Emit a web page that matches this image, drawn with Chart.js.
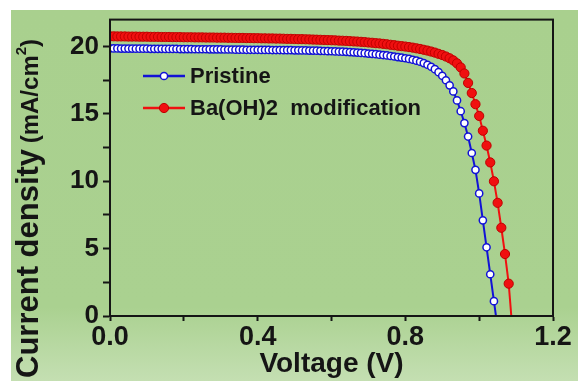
<!DOCTYPE html>
<html>
<head>
<meta charset="utf-8">
<script src="https://cdn.jsdelivr.net/npm/chart.js@4.4.1/dist/chart.umd.min.js"></script>
<style>
  html, body { margin: 0; padding: 0; background: #fff; }
  #wrap { width: 578px; height: 381px; }
</style>
</head>
<body>
<div id="wrap"><canvas id="jv" width="578" height="381"></canvas></div>
<script>
// ===============================
// DATA
// ===============================
const seriesNames = ["Pristine", "Ba(OH)2  modification"];

// voltage steps (V)
const voltage = [
  0.00, 0.01, 0.02, 0.03, 0.04, 0.05, 0.06, 0.07, 0.08, 0.09,
  0.10, 0.11, 0.12, 0.13, 0.14, 0.15, 0.16, 0.17, 0.18, 0.19,
  0.20, 0.21, 0.22, 0.23, 0.24, 0.25, 0.26, 0.27, 0.28, 0.29,
  0.30, 0.31, 0.32, 0.33, 0.34, 0.35, 0.36, 0.37, 0.38, 0.39,
  0.40, 0.41, 0.42, 0.43, 0.44, 0.45, 0.46, 0.47, 0.48, 0.49,
  0.50, 0.51, 0.52, 0.53, 0.54, 0.55, 0.56, 0.57, 0.58, 0.59,
  0.60, 0.61, 0.62, 0.63, 0.64, 0.65, 0.66, 0.67, 0.68, 0.69,
  0.70, 0.71, 0.72, 0.73, 0.74, 0.75, 0.76, 0.77, 0.78, 0.79,
  0.80, 0.81, 0.82, 0.83, 0.84, 0.85, 0.86, 0.87, 0.88, 0.89,
  0.90, 0.91, 0.92, 0.93, 0.94, 0.95, 0.96, 0.97, 0.98, 0.99,
  1.00, 1.01, 1.02, 1.03, 1.04, 1.05, 1.06, 1.07, 1.08, 1.09
];

// current density (mA/cm2), pristine device
const pristineJ = [
  19.86, 19.86, 19.86, 19.85, 19.85, 19.85, 19.85, 19.84, 19.84, 19.84,
  19.84, 19.83, 19.83, 19.83, 19.83, 19.82, 19.82, 19.82, 19.82, 19.81,
  19.81, 19.81, 19.81, 19.80, 19.80, 19.80, 19.80, 19.79, 19.79, 19.79,
  19.79, 19.78, 19.78, 19.78, 19.77, 19.77, 19.77, 19.76, 19.76, 19.76,
  19.76, 19.75, 19.75, 19.75, 19.74, 19.74, 19.74, 19.73, 19.73, 19.73,
  19.72, 19.72, 19.71, 19.71, 19.70, 19.70, 19.69, 19.68, 19.67, 19.66,
  19.65, 19.64, 19.63, 19.62, 19.61, 19.59, 19.57, 19.55, 19.53, 19.51,
  19.48, 19.46, 19.43, 19.40, 19.37, 19.34, 19.30, 19.26, 19.22, 19.18,
  19.13, 19.08, 19.02, 18.95, 18.87, 18.77, 18.65, 18.50, 18.32, 18.10,
  17.83, 17.50, 17.12, 16.67, 16.00, 15.20, 14.32, 13.32, 12.10, 10.85,
  9.10, 7.10, 5.10, 3.10, 1.10, -0.90
];

// current density (mA/cm2), Ba(OH)2 modified device
const modifiedJ = [
  20.76, 20.76, 20.75, 20.75, 20.75, 20.74, 20.74, 20.74, 20.73, 20.73,
  20.73, 20.72, 20.72, 20.72, 20.71, 20.71, 20.71, 20.70, 20.70, 20.70,
  20.69, 20.69, 20.69, 20.68, 20.68, 20.68, 20.67, 20.67, 20.67, 20.66,
  20.66, 20.66, 20.65, 20.65, 20.64, 20.64, 20.64, 20.63, 20.63, 20.62,
  20.62, 20.61, 20.61, 20.60, 20.60, 20.59, 20.59, 20.58, 20.57, 20.57,
  20.56, 20.55, 20.55, 20.54, 20.53, 20.52, 20.51, 20.50, 20.49, 20.48,
  20.47, 20.46, 20.44, 20.43, 20.42, 20.40, 20.38, 20.37, 20.35, 20.33,
  20.30, 20.28, 20.25, 20.23, 20.20, 20.17, 20.13, 20.10, 20.06, 20.03,
  20.00, 19.96, 19.92, 19.87, 19.82, 19.76, 19.70, 19.63, 19.55, 19.46,
  19.37, 19.26, 19.13, 18.97, 18.75, 18.45, 18.00, 17.30, 16.55, 15.72,
  14.85, 13.75, 12.65, 11.40, 10.00, 8.40, 6.55, 4.60, 2.40, -1.00
];

// tick labels shown
const xTickLabels = ["0.0", "0.4", "0.8", "1.2"];
const yTickLabels = ["0", "5", "10", "15", "20"];

// ===============================
// STYLE
// ===============================
const FONT = '"Liberation Sans", Arial, sans-serif';
const INK = "#151515";
const BLUE = "#1212d6";
const RED = "#f01010";

function toPoints(ys) {
  return ys.map((y, i) => ({ x: voltage[i], y }));
}

// ===============================
// PLUGINS
// ===============================
const background = {
  id: "background",
  beforeDraw(chart) {
    const { ctx, width, height } = chart;
    ctx.save();
    ctx.fillStyle = "#ffffff";
    ctx.fillRect(0, 0, width, height);
    const g = ctx.createLinearGradient(0, 10, 0, height);
    g.addColorStop(0, "#a9d08e");
    g.addColorStop(0.8, "#aad190");
    g.addColorStop(1, "#c4dfb2");
    ctx.fillStyle = g;
    ctx.fillRect(11, 10, width - 11, height - 10);
    ctx.restore();
  }
};

const frame = {
  id: "frame",
  afterDraw(chart) {
    const { ctx, chartArea: a } = chart;
    ctx.save();
    ctx.strokeStyle = INK;
    ctx.lineWidth = 2;
    ctx.strokeRect(a.left, a.top, a.right - a.left, a.bottom - a.top);
    ctx.restore();
  }
};

const yTitle = {
  id: "yTitle",
  afterDraw(chart) {
    const { ctx } = chart;
    ctx.save();
    ctx.translate(38, 378);
    ctx.rotate(-Math.PI / 2);
    ctx.fillStyle = INK;
    ctx.textBaseline = "alphabetic";
    ctx.textAlign = "left";
    let x = 0;
    ctx.font = "bold 31px " + FONT;
    ctx.fillText("Current density", x, 0);
    x += ctx.measureText("Current density ").width - 3;
    ctx.font = "bold 24px " + FONT;
    ctx.fillText("(mA/cm", x, 0);
    x += ctx.measureText("(mA/cm").width;
    ctx.font = "bold 15px " + FONT;
    ctx.fillText("2", x, -12);
    x += ctx.measureText("2").width;
    ctx.font = "bold 24px " + FONT;
    ctx.fillText(")", x, 0);
    ctx.restore();
  }
};

const innerLegend = {
  id: "innerLegend",
  afterDraw(chart) {
    const { ctx } = chart;
    const rows = [76, 108];
    ctx.save();
    chart.data.datasets.forEach((ds, i) => {
      const y = rows[i];
      ctx.strokeStyle = ds.borderColor;
      ctx.lineWidth = 2.5;
      ctx.beginPath();
      ctx.moveTo(143, y);
      ctx.lineTo(185, y);
      ctx.stroke();
      ctx.beginPath();
      ctx.arc(164, y, ds.pointRadius, 0, Math.PI * 2);
      ctx.fillStyle = ds.pointBackgroundColor;
      ctx.fill();
      ctx.lineWidth = ds.pointBorderWidth;
      ctx.strokeStyle = ds.pointBorderColor;
      ctx.stroke();
      ctx.fillStyle = INK;
      ctx.font = "bold 22px " + FONT;
      ctx.textBaseline = "middle";
      ctx.fillText(ds.label, 190, y + 1);
    });
    ctx.restore();
  }
};

// ===============================
// CHART
// ===============================
new Chart(document.getElementById("jv"), {
  type: "line",
  data: {
    datasets: [
      {
        label: seriesNames[0],
        data: toPoints(pristineJ),
        borderColor: BLUE,
        borderWidth: 2,
        pointRadius: 3.6,
        pointBorderWidth: 1.5,
        pointBackgroundColor: "#ffffff",
        pointBorderColor: BLUE,
        tension: 0
      },
      {
        label: seriesNames[1],
        data: toPoints(modifiedJ),
        borderColor: RED,
        borderWidth: 2,
        pointRadius: 4.6,
        pointBorderWidth: 1,
        pointBackgroundColor: RED,
        pointBorderColor: "#c00000",
        tension: 0
      }
    ]
  },
  options: {
    responsive: false,
    devicePixelRatio: 1,
    animation: false,
    layout: { padding: { left: 0, right: 25, top: 17, bottom: 0 } },
    plugins: {
      legend: { display: false },
      tooltip: { enabled: false }
    },
    scales: {
      x: {
        type: "linear",
        min: 0,
        max: 1.2,
        ticks: {
          stepSize: 0.2,
          autoSkip: false,
          color: INK,
          padding: 0,
          maxRotation: 0,
          font: { family: FONT, size: 27, weight: "bold" },
          callback: v => {
            const k = Math.round(v * 10);
            return k % 4 === 0 ? xTickLabels[k / 4] : "";
          }
        },
        grid: { drawOnChartArea: false, tickLength: 5, tickColor: INK, tickWidth: 2 },
        border: { color: INK, width: 2 },
        title: {
          display: true,
          text: "Voltage (V)",
          color: INK,
          font: { family: FONT, size: 28, weight: "bold" },
          padding: { top: 0, bottom: 0 }
        },
        afterFit: s => { s.height = 65; }
      },
      y: {
        type: "linear",
        min: 0,
        max: 22,
        ticks: {
          stepSize: 2.5,
          includeBounds: false,
          autoSkip: false,
          color: INK,
          padding: 4,
          font: { family: FONT, size: 26, weight: "bold" },
          callback: v => (v % 5 === 0 && v <= 20 ? yTickLabels[v / 5] : "")
        },
        grid: {
          drawOnChartArea: false,
          tickLength: 7,
          tickWidth: 2,
          tickColor: INK
        },
        border: { color: INK, width: 2 },
        title: { display: false },
        afterFit: s => { s.width = 110; }
      }
    }
  },
  plugins: [background, frame, yTitle, innerLegend]
});
</script>
</body>
</html>
